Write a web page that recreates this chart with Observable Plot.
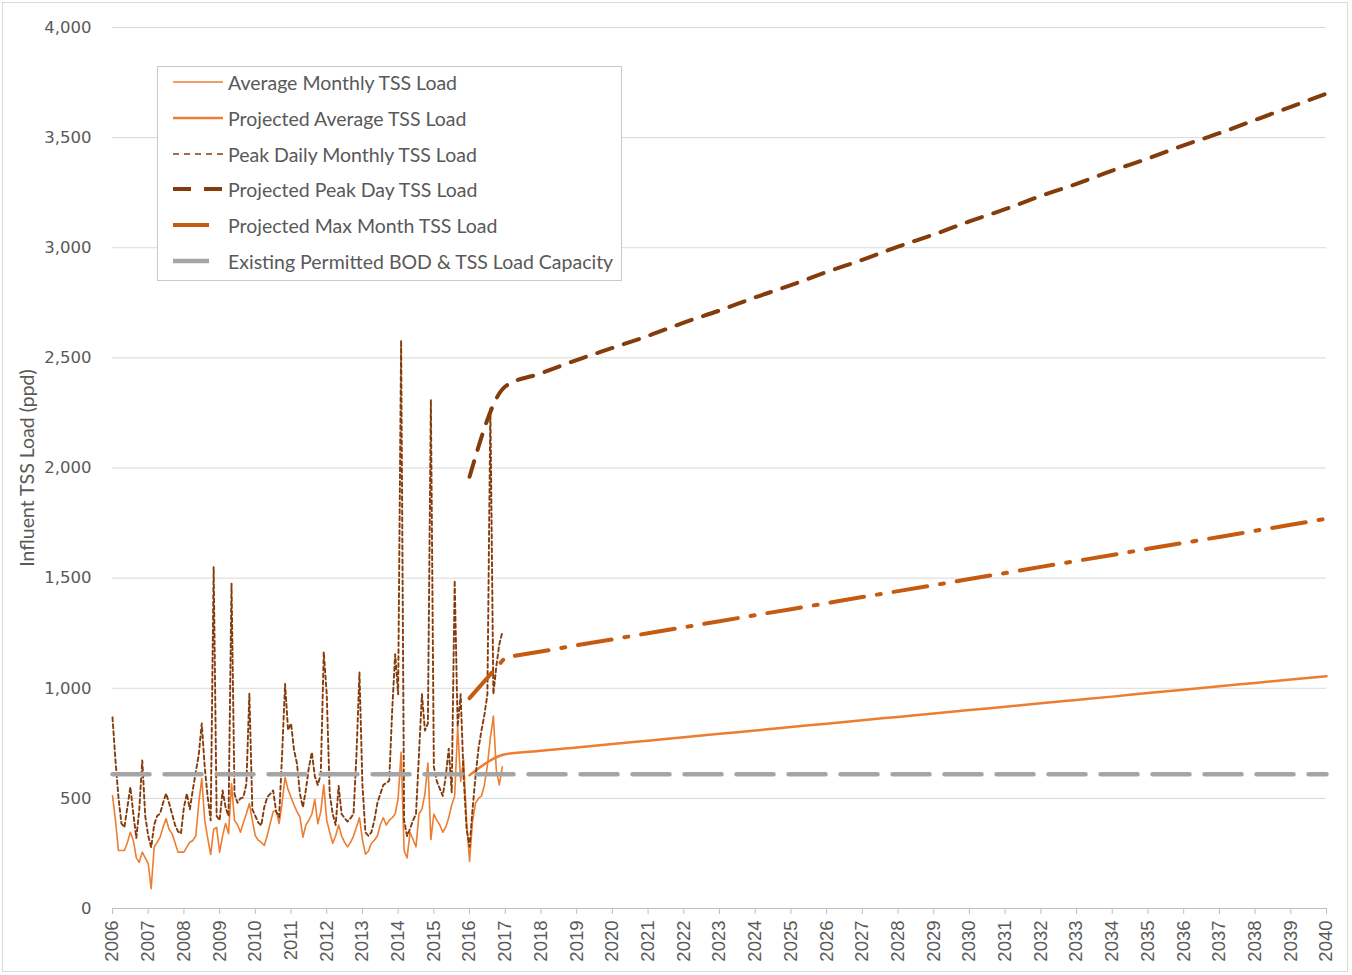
<!DOCTYPE html>
<html>
<head>
<meta charset="utf-8">
<script src="https://cdn.jsdelivr.net/npm/d3@7"></script>
<script src="https://cdn.jsdelivr.net/npm/@observablehq/plot@0.6"></script>
<style>
  body { margin: 0; background: #fff; }
  #wrap { position: relative; width: 1352px; height: 975px; overflow: hidden; background: #fff; }
  #frame { position: absolute; left: 2px; top: 2px; width: 1346px; height: 970px; border: 1px solid #d9d9d9; box-sizing: border-box; pointer-events: none; }
  #ytitle { position: absolute; left: 26px; top: 468px; transform: translate(-50%, -50%) rotate(-90deg); white-space: nowrap;
            font-family: Lato, "Open Sans", sans-serif; font-size: 19.5px; color: #595959; }
  #legend { position: absolute; left: 157px; top: 66px; width: 465px; height: 215px; border: 1px solid #c8c8c8; background: #fff; box-sizing: border-box;
            font-family: Lato, "Open Sans", sans-serif; font-size: 19.5px; color: #595959; }
  .row { position: absolute; left: 0; height: 30px; display: flex; align-items: center; }
  .row svg { margin-left: 14px; width: 52px; height: 10px; }
  .row span { margin-left: 4px; white-space: nowrap; }
  g[aria-label="y-axis tick label"] text { font-family: "DejaVu Sans", Verdana, sans-serif; font-size: 16.5px; fill: #595959; }
  g[aria-label="x-axis tick label"] text { font-family: "Liberation Sans", Arial, sans-serif; font-size: 18.5px; fill: #595959; }
</style>
</head>
<body>
<div id="wrap">
  <div id="chart"></div>
  <div id="ytitle">Influent TSS Load (ppd)</div>
  <div id="legend"></div>
  <div id="frame"></div>
</div>
<script>
// ---------- data ----------
const startYear = 2006; // monthly observations begin January 2006

// Average Monthly TSS Load (ppd), monthly Jan 2006 .. Dec 2016
const avgMonthly = [
  513, 400, 263, 263, 263, 300, 346, 309, 230, 210, 256, 230,
  204,  90, 278, 300, 324, 370, 408, 360, 340, 300, 256, 256,
  256, 280, 301, 309, 330, 480, 590, 400, 320, 245, 360, 368,
  256, 330, 386, 340, 567, 400, 380, 346, 390, 430, 477, 400,
  330, 310, 300, 286, 330, 386, 440, 445, 386, 480, 596, 540,
  505, 470, 440, 415, 324, 380, 400, 429, 495, 385, 440, 561,
  400, 346, 296, 330, 379, 329, 300, 280, 300, 329, 370, 412,
  313, 247, 260, 296, 310, 329, 380, 412, 379, 400, 412, 429,
  500, 709, 263, 230, 346, 313, 280, 429, 450, 520, 660, 313,
  429, 400, 379, 346, 370, 412, 470, 511, 825, 577, 676, 395,
  214, 395, 478, 500, 511, 561, 650, 775, 874, 627, 561, 643
];

// Peak Daily Monthly TSS Load (ppd), monthly Jan 2006 .. Dec 2016
const peakMonthly = [
  868, 672, 505, 386, 369, 460, 551, 431, 320, 450, 672, 420,
  330, 278, 380, 420, 431, 480, 522, 480, 430, 380, 350, 340,
  460, 522, 450, 540, 620, 700, 840, 640, 505, 400, 1550, 420,
  400, 536, 460, 420, 1475, 520, 480, 500, 505, 567, 975, 450,
  420, 390, 377, 460, 505, 520, 536, 440, 415, 700, 1020, 810,
  840, 720, 658, 520, 460, 540, 640, 709, 600, 561, 610, 1165,
  973, 520, 430, 379, 556, 429, 410, 395, 410, 429, 700, 1072,
  561, 346, 330, 346, 400, 478, 520, 561, 570, 580, 900, 1155,
  973, 2580, 400, 329, 362, 400, 429, 700, 973, 808, 841, 2310,
  643, 577, 544, 511, 600, 726, 528, 1490, 825, 973, 600, 362,
  280, 450, 600, 726, 808, 880, 973, 2270, 973, 1100, 1200, 1254
];

// Projections, annual 2016 .. 2040
const projYears = [2016, 2017, 2018, 2019, 2020, 2021, 2022, 2023, 2024, 2025, 2026, 2027, 2028,
                   2029, 2030, 2031, 2032, 2033, 2034, 2035, 2036, 2037, 2038, 2039, 2040];
const projAvg = [605, 700, 716, 731, 747, 762, 777, 793, 808, 824, 839, 855, 870,
                 885, 901, 916, 932, 947, 962, 978, 993, 1009, 1024, 1040, 1055];
const projPeak = [1960, 2370, 2430, 2490, 2545, 2600, 2660, 2715, 2775, 2830, 2890, 2945, 3005,
                  3060, 3120, 3175, 3235, 3290, 3350, 3405, 3465, 3520, 3580, 3640, 3700];
const projMaxMonth = [955, 1140, 1167, 1195, 1222, 1250, 1277, 1304, 1332, 1359, 1386, 1414, 1441,
                      1468, 1496, 1523, 1551, 1578, 1605, 1633, 1660, 1687, 1715, 1742, 1770];

// Existing Permitted BOD & TSS Load Capacity
const capacityYears = [2006, 2040];
const capacityValues = [610, 610];

// Axis ticks
const yTicks = [0, 500, 1000, 1500, 2000, 2500, 3000, 3500, 4000];
const xTicks = [2006, 2007, 2008, 2009, 2010, 2011, 2012, 2013, 2014, 2015, 2016, 2017, 2018, 2019, 2020,
                2021, 2022, 2023, 2024, 2025, 2026, 2027, 2028, 2029, 2030, 2031, 2032, 2033, 2034, 2035,
                2036, 2037, 2038, 2039, 2040];

const legendLabels = [
  "Average Monthly TSS Load",
  "Projected Average TSS Load",
  "Peak Daily Monthly TSS Load",
  "Projected Peak Day TSS Load",
  "Projected Max Month TSS Load",
  "Existing Permitted BOD & TSS Load Capacity"
];

// ---------- build tables ----------
const monthlyAvg = avgMonthly.map((v, i) => ({t: startYear + i / 12, v}));
const monthlyPeak = peakMonthly.map((v, i) => ({t: startYear + i / 12, v}));
const pAvg = projYears.map((t, i) => ({t, v: projAvg[i]}));
const pPeak = projYears.map((t, i) => ({t, v: projPeak[i]}));
const pMax = projYears.map((t, i) => ({t, v: projMaxMonth[i]}));
const cap = capacityYears.map((t, i) => ({t, v: capacityValues[i]}));

const C_ORANGE = "#ED7D31", C_BROWN = "#843C0C", C_DARKOR = "#C55A11", C_GRAY = "#A5A5A5";

const styles = [
  {stroke: C_ORANGE, strokeWidth: 1.6},
  {stroke: C_ORANGE, strokeWidth: 2.5},
  {stroke: C_BROWN, strokeWidth: 1.9, strokeDasharray: "4,3"},
  {stroke: C_BROWN, strokeWidth: 4, strokeDasharray: "16,12"},
  {stroke: C_DARKOR, strokeWidth: 4, strokeDasharray: "34,13,4,13"},
  {stroke: C_GRAY, strokeWidth: 4.5, strokeDasharray: "37,15"}
];

const chart = Plot.plot({
  width: 1352,
  height: 975,
  marginLeft: 112,
  marginRight: 26,
  marginTop: 27,
  marginBottom: 67,
  x: {type: "linear", domain: [2006, 2040]},
  y: {type: "linear", domain: [0, 4000]},
  style: {background: "transparent", overflow: "visible"},
  marks: [
    Plot.ruleY(yTicks.filter(d => d > 0), {stroke: "#d9d9d9", strokeWidth: 1}),
    Plot.ruleY([0], {stroke: "#bfbfbf", strokeWidth: 1}),
    Plot.axisY({ticks: yTicks, tickSize: 0, tickPadding: 21, tickFormat: d3.format(","), label: null}),
    Plot.axisX({ticks: xTicks, tickSize: 6, tickPadding: 6, tickRotate: -90, stroke: "#bfbfbf",
                tickFormat: d => String(d), label: null}),
    Plot.line(monthlyAvg, {x: "t", y: "v", ...styles[0], strokeLinejoin: "round"}),
    Plot.line(pAvg, {x: "t", y: "v", ...styles[1], curve: "monotone-x"}),
    Plot.line(monthlyPeak, {x: "t", y: "v", ...styles[2], strokeLinejoin: "round"}),
    Plot.line(pPeak, {x: "t", y: "v", ...styles[3], curve: "monotone-x"}),
    Plot.line(pMax, {x: "t", y: "v", ...styles[4]}),
    Plot.line(cap, {x: "t", y: "v", ...styles[5]})
  ]
});
document.getElementById("chart").appendChild(chart);

// ---------- legend ----------
const legend = document.getElementById("legend");
const rowTops = [0, 36, 72, 107, 143, 179];
const swatchDash = ["", "", "6,5", "18,13", "36,100", "36,100"];
const swatchWidth = [1.5, 2.5, 1.5, 4, 4, 4.5];
legendLabels.forEach((lab, i) => {
  const row = document.createElement("div");
  row.className = "row";
  row.style.top = rowTops[i] + "px";
  const s = styles[i];
  row.innerHTML = `<svg viewBox="0 0 52 10"><line x1="1" y1="5" x2="51" y2="5" stroke="${s.stroke}" stroke-width="${swatchWidth[i]}" ${swatchDash[i] ? `stroke-dasharray="${swatchDash[i]}"` : ""}/></svg><span>${lab.replace("&", "&amp;")}</span>`;
  legend.appendChild(row);
});
</script>
</body>
</html>
